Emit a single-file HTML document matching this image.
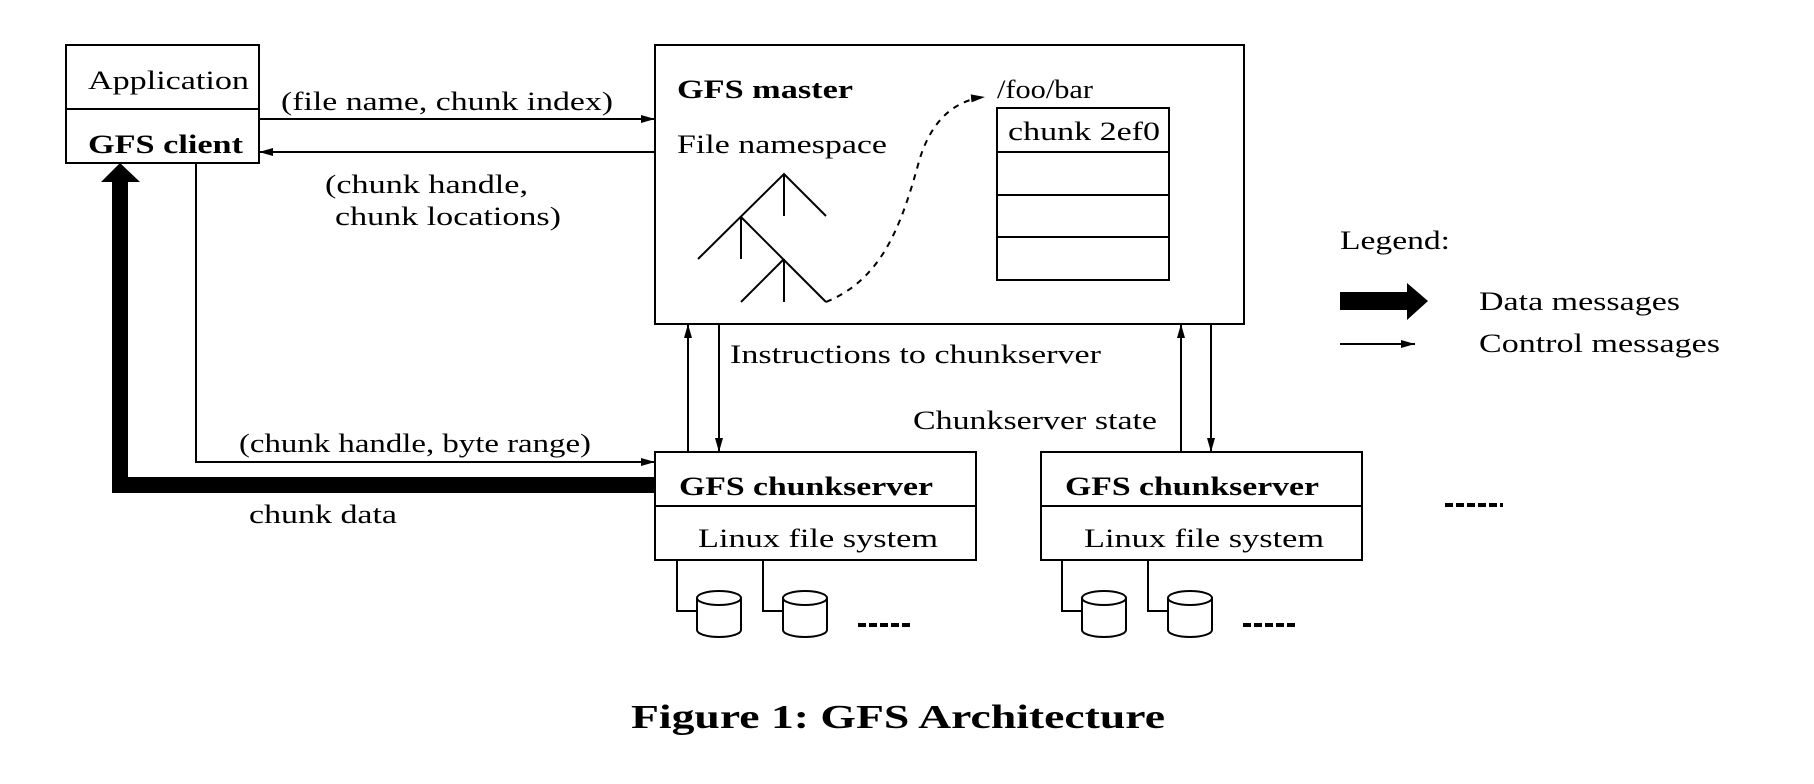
<!DOCTYPE html>
<html><head><meta charset="utf-8"><style>html,body{margin:0;padding:0;background:#fff}svg{display:block}svg text{font-family:"Liberation Serif","Times New Roman",serif}</style></head>
<body>
<svg width="1814" height="784" viewBox="0 0 1814 784" xmlns="http://www.w3.org/2000/svg" font-size="26" fill="#000">
<defs>
<marker id="a" markerWidth="14" markerHeight="8" refX="14" refY="4" orient="auto" markerUnits="userSpaceOnUse"><path d="M0,0 L14,4 L0,8 z" fill="#000"/></marker>
</defs>
<g stroke="#000" stroke-width="2" fill="none">
<rect x="66" y="45" width="193" height="118"/>
<line x1="66" y1="109" x2="259" y2="109"/>
<rect x="655" y="45" width="589" height="279"/>
<rect x="997" y="108" width="172" height="172"/>
<line x1="997" y1="152" x2="1169" y2="152"/>
<line x1="997" y1="195" x2="1169" y2="195"/>
<line x1="997" y1="237" x2="1169" y2="237"/>
<polyline points="698,259 784,174 826,216"/>
<line x1="784" y1="174" x2="784" y2="216"/>
<polyline points="741,217 826,302"/>
<line x1="741" y1="217" x2="741" y2="259"/>
<polyline points="741,302 784,259"/>
<line x1="784" y1="259" x2="784" y2="302"/>
<path d="M826,302 C880,280 900,230 918,165 C930,120 955,100 985,97" stroke-dasharray="6,6" marker-end="url(#a)"/>
<line x1="259" y1="119" x2="655" y2="119" marker-end="url(#a)"/>
<line x1="655" y1="152" x2="259" y2="152" marker-end="url(#a)"/>
<polyline points="196,163 196,462 655,462" marker-end="url(#a)"/>
<line x1="688" y1="452" x2="688" y2="324" marker-end="url(#a)"/>
<line x1="719" y1="324" x2="719" y2="452" marker-end="url(#a)"/>
<line x1="1181" y1="452" x2="1181" y2="324" marker-end="url(#a)"/>
<line x1="1211" y1="324" x2="1211" y2="452" marker-end="url(#a)"/>
<rect x="655" y="452" width="321" height="108"/>
<line x1="655" y1="506" x2="976" y2="506"/>
<rect x="1041" y="452" width="321" height="108"/>
<line x1="1041" y1="506" x2="1362" y2="506"/>
<polyline points="677,560 677,611 697,611"/>
<polyline points="763,560 763,611 783,611"/>
<polyline points="1062,560 1062,611 1082,611"/>
<polyline points="1148,560 1148,611 1168,611"/>
<line x1="1340" y1="344" x2="1415" y2="344" marker-end="url(#a)"/>
</g>
<g stroke="#000" stroke-width="2" fill="#fff">
<path d="M697,598 v32 a22,7 0 0 0 44,0 v-32"/><ellipse cx="719" cy="598" rx="22" ry="7"/>
<path d="M783,598 v32 a22,7 0 0 0 44,0 v-32"/><ellipse cx="805" cy="598" rx="22" ry="7"/>
<path d="M1082,598 v32 a22,7 0 0 0 44,0 v-32"/><ellipse cx="1104" cy="598" rx="22" ry="7"/>
<path d="M1168,598 v32 a22,7 0 0 0 44,0 v-32"/><ellipse cx="1190" cy="598" rx="22" ry="7"/>
</g>
<g stroke="#000" stroke-width="4" stroke-dasharray="8,3">
<line x1="858" y1="625" x2="913" y2="625"/>
<line x1="1243" y1="625" x2="1298" y2="625"/>
<line x1="1445" y1="505" x2="1503" y2="505"/>
</g>
<path d="M655,477 L128,477 L128,182 L140,182 L120,163 L101,182 L112,182 L112,493 L655,493 z" fill="#000"/>
<path d="M1340,292 L1407,292 L1407,283 L1428,301 L1407,320 L1407,310 L1340,310 z" fill="#000"/>
<text x="88" y="89" textLength="161" lengthAdjust="spacingAndGlyphs">Application</text>
<text x="88" y="153" font-weight="bold" textLength="155" lengthAdjust="spacingAndGlyphs">GFS client</text>
<text x="281" y="110" textLength="332" lengthAdjust="spacingAndGlyphs">(file name, chunk index)</text>
<text x="325" y="193" textLength="203" lengthAdjust="spacingAndGlyphs">(chunk handle,</text>
<text x="335" y="225" textLength="226" lengthAdjust="spacingAndGlyphs">chunk locations)</text>
<text x="239" y="452" textLength="352" lengthAdjust="spacingAndGlyphs">(chunk handle, byte range)</text>
<text x="249" y="523" textLength="148" lengthAdjust="spacingAndGlyphs">chunk data</text>
<text x="677" y="98" font-weight="bold" textLength="176" lengthAdjust="spacingAndGlyphs">GFS master</text>
<text x="677" y="153" textLength="210" lengthAdjust="spacingAndGlyphs">File namespace</text>
<text x="997" y="98" textLength="96" lengthAdjust="spacingAndGlyphs">/foo/bar</text>
<text x="1008" y="140" textLength="152" lengthAdjust="spacingAndGlyphs">chunk 2ef0</text>
<text x="730" y="363" textLength="371" lengthAdjust="spacingAndGlyphs">Instructions to chunkserver</text>
<text x="913" y="429" textLength="244" lengthAdjust="spacingAndGlyphs">Chunkserver state</text>
<text x="679" y="495" font-weight="bold" textLength="254" lengthAdjust="spacingAndGlyphs">GFS chunkserver</text>
<text x="698" y="547" textLength="240" lengthAdjust="spacingAndGlyphs">Linux file system</text>
<text x="1065" y="495" font-weight="bold" textLength="254" lengthAdjust="spacingAndGlyphs">GFS chunkserver</text>
<text x="1084" y="547" textLength="240" lengthAdjust="spacingAndGlyphs">Linux file system</text>
<text x="1340" y="249" textLength="110" lengthAdjust="spacingAndGlyphs">Legend:</text>
<text x="1479" y="310" textLength="201" lengthAdjust="spacingAndGlyphs">Data messages</text>
<text x="1479" y="352" textLength="241" lengthAdjust="spacingAndGlyphs">Control messages</text>
<text x="631" y="728" font-size="34" font-weight="bold" textLength="534" lengthAdjust="spacingAndGlyphs">Figure 1: GFS Architecture</text>
</svg>
</body></html>
